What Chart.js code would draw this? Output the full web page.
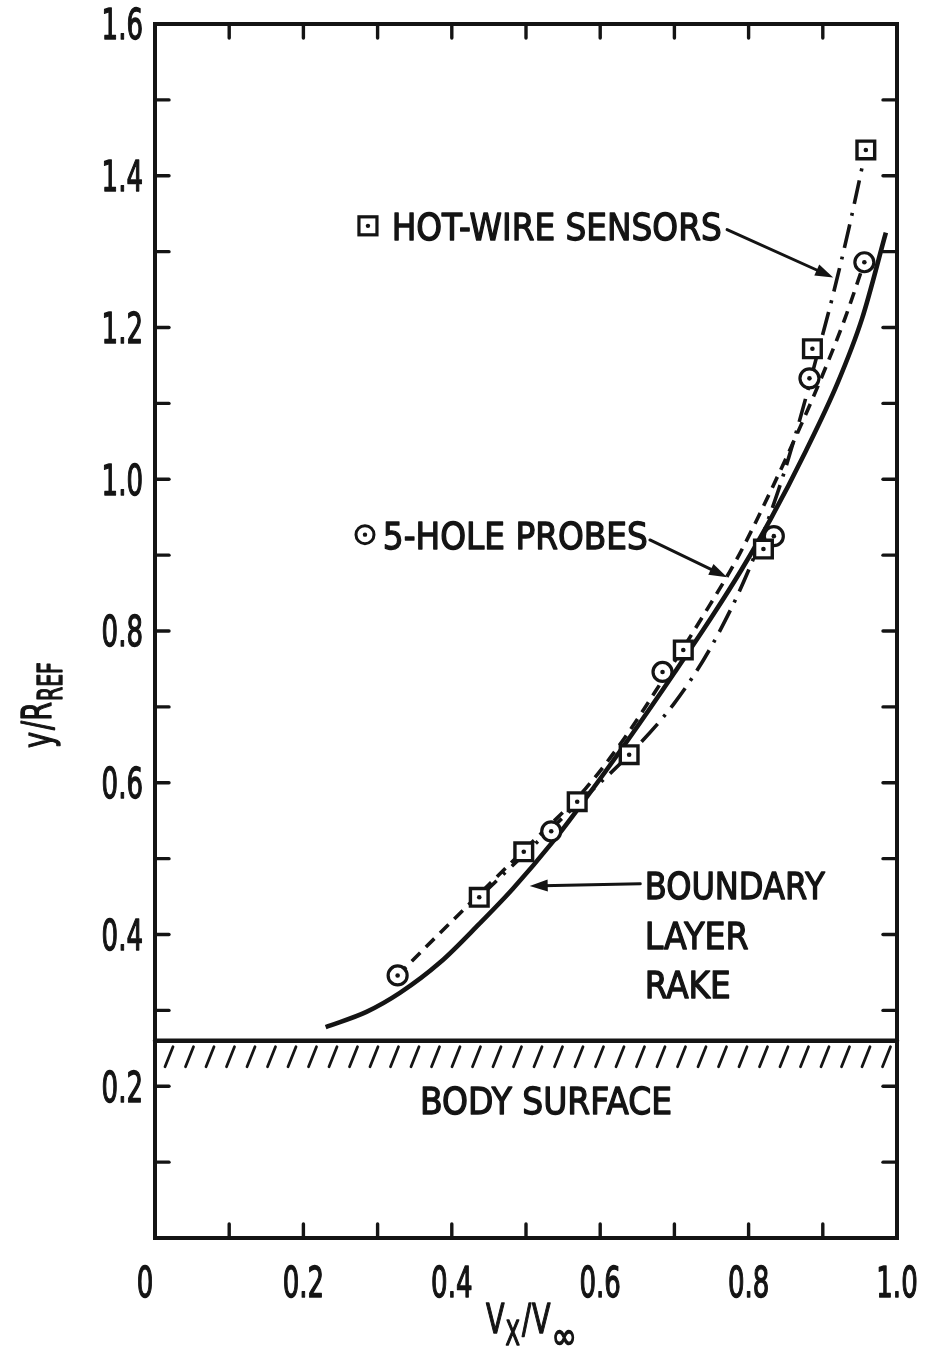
<!DOCTYPE html>
<html>
<head>
<meta charset="utf-8">
<script src="https://cdn.jsdelivr.net/npm/chart.js@4.4.0/dist/chart.umd.min.js"></script>
<style>
  html, body { margin: 0; padding: 0; background: #fff; }
  #c { display: block; }
</style>
</head>
<body>
<canvas id="c" width="934" height="1349"></canvas>
<script>
// axis ticks (every 0.1), labels only every 0.2
const xTicks = [0, 0.1, 0.2, 0.3, 0.4, 0.5, 0.6, 0.7, 0.8, 0.9, 1.0];
const xTickLabels = ['0', '', '0.2', '', '0.4', '', '0.6', '', '0.8', '', '1.0'];
const yTicks = [0, 0.1, 0.2, 0.3, 0.4, 0.5, 0.6, 0.7, 0.8, 0.9, 1.0, 1.1, 1.2, 1.3, 1.4, 1.5, 1.6];
const yTickLabels = ['', '', '0.2', '', '0.4', '', '0.6', '', '0.8', '', '1.0', '', '1.2', '', '1.4', '', '1.6'];

// measured points
const hotWireX = [0.437, 0.497, 0.569, 0.639, 0.712, 0.820, 0.886, 0.958];
const hotWireY = [0.449, 0.509, 0.575, 0.637, 0.775, 0.908, 1.172, 1.434];
const probeX = [0.327, 0.534, 0.684, 0.834, 0.882, 0.956];
const probeY = [0.346, 0.536, 0.746, 0.925, 1.133, 1.286];

// faired curves
const hotFitX = [0.437, 0.497, 0.569, 0.639, 0.700, 0.750, 0.800, 0.840, 0.868, 0.890, 0.913, 0.935, 0.958];
const hotFitY = [0.449, 0.505, 0.572, 0.637, 0.705, 0.780, 0.880, 0.985, 1.075, 1.155, 1.240, 1.330, 1.434];
const probeFitX = [0.327, 0.380, 0.437, 0.497, 0.534, 0.580, 0.630, 0.684, 0.740, 0.787, 0.830, 0.870, 0.905, 0.931, 0.956];
const probeFitY = [0.346, 0.398, 0.453, 0.511, 0.546, 0.592, 0.655, 0.735, 0.822, 0.900, 0.985, 1.070, 1.150, 1.215, 1.286];
const rakeX = [0.230, 0.285, 0.330, 0.384, 0.437, 0.482, 0.536, 0.581, 0.640, 0.700, 0.750, 0.790, 0.830, 0.877, 0.920, 0.953, 0.985];
const rakeY = [0.278, 0.298, 0.323, 0.363, 0.414, 0.460, 0.522, 0.580, 0.660, 0.745, 0.818, 0.880, 0.948, 1.037, 1.127, 1.212, 1.325];

const surfaceLevel = 0.26;

const INK = '#141414';
const FONT = '"DejaVu Sans", "Liberation Sans", sans-serif';

function pts(xs, ys) { return xs.map((x, i) => ({ x, y: ys[i] })); }

// draw text squeezed horizontally, y is the centre of capitals
function txt(ctx, s, x, y, size, sx, align) {
  ctx.save();
  ctx.font = size + 'px ' + FONT;
  ctx.textBaseline = 'alphabetic';
  ctx.textAlign = 'left';
  const w = ctx.measureText(s).width * sx;
  let x0 = x;
  if (align === 'right') x0 = x - w;
  else if (align === 'center') x0 = x - w / 2;
  ctx.translate(x0, y + size * 0.365);
  ctx.scale(sx, 1);
  ctx.fillStyle = INK;
  ctx.strokeStyle = INK;
  ctx.lineWidth = 1.4;
  ctx.lineJoin = 'round';
  ctx.fillText(s, 0, 0);
  ctx.strokeText(s, 0, 0);
  ctx.restore();
  return w;
}
function fitTxt(ctx, s, x, y, size, width, align) {
  ctx.save();
  ctx.font = size + 'px ' + FONT;
  const sx = width / ctx.measureText(s).width;
  ctx.restore();
  return txt(ctx, s, x, y, size, sx, align);
}
function arrow(ctx, x1, y1, x2, y2) {
  const a = Math.atan2(y2 - y1, x2 - x1);
  const L = 18, W = 6;
  ctx.beginPath();
  ctx.moveTo(x1, y1);
  ctx.lineTo(x2 - Math.cos(a) * L * 0.7, y2 - Math.sin(a) * L * 0.7);
  ctx.stroke();
  ctx.beginPath();
  ctx.moveTo(x2, y2);
  ctx.lineTo(x2 - Math.cos(a) * L - Math.sin(a) * W, y2 - Math.sin(a) * L + Math.cos(a) * W);
  ctx.lineTo(x2 - Math.cos(a) * L + Math.sin(a) * W, y2 - Math.sin(a) * L - Math.cos(a) * W);
  ctx.closePath();
  ctx.fill();
}

const paper = {
  id: 'paper',
  beforeDatasetsDraw(chart) {
    const ctx = chart.ctx, a = chart.chartArea;
    const sy = chart.scales.y;
    ctx.save();
    ctx.strokeStyle = INK;
    ctx.lineCap = 'round';

    // body surface + hatching
    const ys = sy.getPixelForValue(surfaceLevel);
    ctx.lineWidth = 4.5;
    ctx.beginPath(); ctx.moveTo(a.left, ys); ctx.lineTo(a.right, ys); ctx.stroke();
    ctx.lineWidth = 2.8;
    for (let x = a.left + 14; x < a.right - 2; x += 20.5) {
      ctx.beginPath(); ctx.moveTo(x + 4, ys + 6); ctx.lineTo(x - 4, ys + 26); ctx.stroke();
    }
    ctx.restore();
  },
  afterDraw(chart) {
    const ctx = chart.ctx, a = chart.chartArea;
    const sx = chart.scales.x, sy = chart.scales.y;
    ctx.save();
    ctx.strokeStyle = INK;
    ctx.fillStyle = INK;
    ctx.lineCap = 'round';

    // frame
    ctx.lineWidth = 4;
    ctx.strokeRect(a.left, a.top, a.right - a.left, a.bottom - a.top);

    // inward ticks on four sides
    ctx.lineWidth = 3.4;
    const tl = 14;
    xTicks.forEach((v, i) => {
      if (i === 0 || i === xTicks.length - 1) return;
      const px = sx.getPixelForValue(v);
      ctx.beginPath(); ctx.moveTo(px, a.bottom); ctx.lineTo(px, a.bottom - tl); ctx.stroke();
      ctx.beginPath(); ctx.moveTo(px, a.top); ctx.lineTo(px, a.top + tl); ctx.stroke();
    });
    yTicks.forEach((v, i) => {
      if (i === 0 || i === yTicks.length - 1) return;
      const py = sy.getPixelForValue(v);
      ctx.beginPath(); ctx.moveTo(a.left, py); ctx.lineTo(a.left + tl, py); ctx.stroke();
      ctx.beginPath(); ctx.moveTo(a.right, py); ctx.lineTo(a.right - tl, py); ctx.stroke();
    });

    // tick labels
    xTicks.forEach((v, i) => {
      if (!xTickLabels[i]) return;
      txt(ctx, xTickLabels[i], sx.getPixelForValue(v) + (i === 0 ? -10 : 0), a.bottom + 44, 42, 0.62, 'center');
    });
    yTicks.forEach((v, i) => {
      if (!yTickLabels[i]) return;
      txt(ctx, yTickLabels[i], a.left - 12, sy.getPixelForValue(v), 42, 0.62, 'right');
    });

    // axis titles
    let cx = 486, by = 1318;
    cx += txt(ctx, 'V', cx, by, 41, 0.66, 'left');
    cx += txt(ctx, 'X', cx + 1, by + 15, 34, 0.62, 'left') + 3;
    cx += txt(ctx, '/', cx, by, 41, 0.66, 'left') + 1;
    cx += txt(ctx, 'V', cx, by, 41, 0.66, 'left');
    txt(ctx, '\u221E', cx + 1, by + 17, 38, 0.8, 'left');

    ctx.save();
    ctx.translate(36, 748);
    ctx.rotate(-Math.PI / 2);
    let ty = 0;
    ty += txt(ctx, 'y', 0, 0, 41, 0.66, 'left');
    ty += txt(ctx, '/', ty + 2, 0, 41, 0.66, 'left') + 2;
    ty += txt(ctx, 'R', ty, 0, 41, 0.66, 'left');
    txt(ctx, 'REF', ty + 1, 14, 33, 0.62, 'left');
    ctx.restore();

    // hot-wire key and arrow
    const hx = sx.getPixelForValue(0.287), hy = sy.getPixelForValue(1.334);
    ctx.lineWidth = 3.2;
    ctx.fillStyle = '#fff';
    ctx.fillRect(hx - 9, hy - 9, 18, 18);
    ctx.strokeRect(hx - 9, hy - 9, 18, 18);
    ctx.fillStyle = INK;
    ctx.beginPath(); ctx.arc(hx, hy, 2.2, 0, Math.PI * 2); ctx.fill();
    fitTxt(ctx, 'HOT-WIRE SENSORS', sx.getPixelForValue(0.319), hy, 38, 330, 'left');
    ctx.lineWidth = 3;
    arrow(ctx, sx.getPixelForValue(0.771), sy.getPixelForValue(1.329),
      sx.getPixelForValue(0.914), sy.getPixelForValue(1.266));

    // probe key and arrow
    const px = sx.getPixelForValue(0.283), py = sy.getPixelForValue(0.927);
    ctx.lineWidth = 3;
    ctx.beginPath(); ctx.arc(px, py, 9, 0, Math.PI * 2); ctx.stroke();
    ctx.beginPath(); ctx.arc(px, py, 2.2, 0, Math.PI * 2); ctx.fill();
    fitTxt(ctx, '5-HOLE PROBES', sx.getPixelForValue(0.307), py, 38, 265, 'left');
    arrow(ctx, sx.getPixelForValue(0.667), sy.getPixelForValue(0.920),
      sx.getPixelForValue(0.771), sy.getPixelForValue(0.871));

    // rake label
    const rx = sx.getPixelForValue(0.660);
    fitTxt(ctx, 'BOUNDARY', rx, sy.getPixelForValue(0.465), 38, 180, 'left');
    fitTxt(ctx, 'LAYER', rx, sy.getPixelForValue(0.399), 38, 104, 'left');
    fitTxt(ctx, 'RAKE', rx, sy.getPixelForValue(0.334), 38, 86, 'left');
    arrow(ctx, sx.getPixelForValue(0.654), sy.getPixelForValue(0.467),
      sx.getPixelForValue(0.505), sy.getPixelForValue(0.464));

    // body surface label
    fitTxt(ctx, 'BODY SURFACE', sx.getPixelForValue(0.527), sy.getPixelForValue(0.182), 38, 252, 'center');

    ctx.restore();
  }
};

new Chart(document.getElementById('c'), {
  type: 'scatter',
  data: {
    datasets: [
      {
        label: 'centre dots',
        data: pts(hotWireX, hotWireY).concat(pts(probeX, probeY)),
        pointStyle: 'circle', pointRadius: 2.3, backgroundColor: INK, borderWidth: 0,
        order: -1
      },
      {
        label: 'Hot-wire sensors',
        data: pts(hotWireX, hotWireY),
        pointStyle: 'rect', pointRadius: 12.5, borderWidth: 3.4,
        borderColor: INK, backgroundColor: '#fff', order: 0
      },
      {
        label: '5-hole probes',
        data: pts(probeX, probeY),
        pointStyle: 'circle', pointRadius: 9.5, borderWidth: 3.2,
        borderColor: INK, backgroundColor: '#fff', order: 0
      },
      {
        label: 'Hot-wire fit',
        data: pts(hotFitX, hotFitY),
        showLine: true, pointRadius: 0, borderColor: INK, borderWidth: 3.6,
        borderDash: [24, 9, 3, 9], cubicInterpolationMode: 'monotone', order: 2
      },
      {
        label: 'Probe fit',
        data: pts(probeFitX, probeFitY),
        showLine: true, pointRadius: 0, borderColor: INK, borderWidth: 3.6,
        borderDash: [12, 8], cubicInterpolationMode: 'monotone', order: 2
      },
      {
        label: 'Boundary layer rake',
        data: pts(rakeX, rakeY),
        showLine: true, pointRadius: 0, borderColor: INK, borderWidth: 4.6,
        cubicInterpolationMode: 'monotone', order: 2
      }
    ]
  },
  options: {
    responsive: false,
    animation: false,
    devicePixelRatio: 1,
    layout: { padding: { left: 155, right: 37, top: 24, bottom: 111 } },
    scales: {
      x: { type: 'linear', min: 0, max: 1.0, display: false },
      y: { type: 'linear', min: 0, max: 1.6, display: false }
    },
    plugins: {
      legend: { display: false },
      tooltip: { enabled: false }
    }
  },
  plugins: [paper]
});
</script>
</body>
</html>
